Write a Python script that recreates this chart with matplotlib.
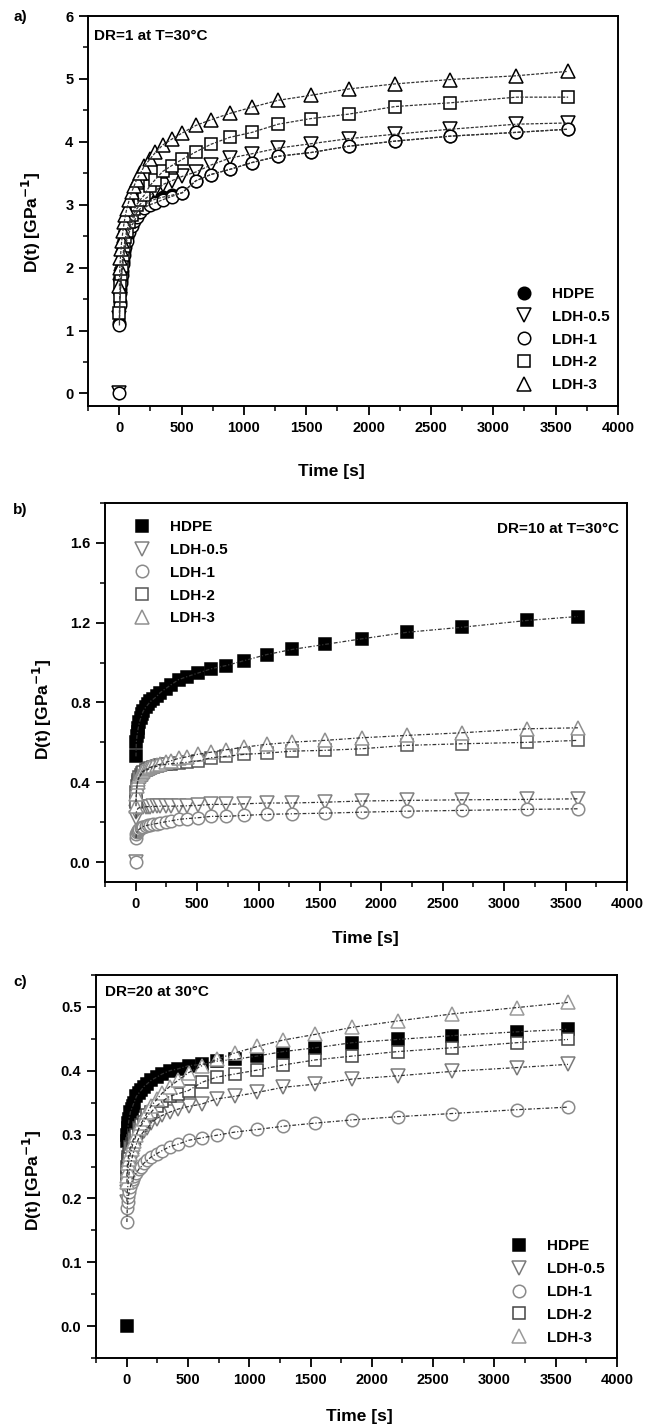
import matplotlib
matplotlib.use("Agg")
import matplotlib.pyplot as plt
from matplotlib.ticker import MultipleLocator

plt.rcParams['font.family'] = ['Liberation Sans', 'DejaVu Sans']
plt.rcParams['font.weight'] = 'bold'
plt.rcParams['mathtext.default'] = 'bf'

# ---------------- data ----------------
series_names = ["HDPE", "LDH-0.5", "LDH-1", "LDH-2", "LDH-3"]

time_s = [2, 5, 10, 15, 20, 30, 40, 50, 60, 80, 100, 120, 140, 170, 200, 245, 290,
          350, 420, 505, 615, 735, 885, 1065, 1275, 1540, 1840, 2210, 2655, 3185, 3600]

# Panel a) DR=1
a_hdpe = [1.12, 1.45, 1.66, 1.81, 1.94, 2.11, 2.26, 2.38, 2.48, 2.62, 2.72, 2.80, 2.87, 2.94, 3.00, 3.05, 3.09,
          3.12, 3.15, 3.19, 3.38, 3.48, 3.56, 3.67, 3.77, 3.83, 3.93, 4.01, 4.09, 4.15, 4.20]
a_ldh05 = [1.20, 1.50, 1.70, 1.85, 1.97, 2.15, 2.30, 2.42, 2.52, 2.66, 2.77, 2.86, 2.93, 3.01, 3.08, 3.15, 3.22,
           3.32, 3.38, 3.45, 3.52, 3.63, 3.74, 3.81, 3.90, 3.97, 4.05, 4.12, 4.20, 4.28, 4.30]
a_ldh1 = [1.08, 1.40, 1.60, 1.75, 1.88, 2.05, 2.20, 2.32, 2.42, 2.56, 2.66, 2.74, 2.81, 2.88, 2.95, 3.00, 3.03,
          3.08, 3.13, 3.19, 3.38, 3.48, 3.56, 3.67, 3.77, 3.83, 3.93, 4.01, 4.09, 4.15, 4.20]
a_ldh2 = [1.28, 1.55, 1.75, 1.90, 2.02, 2.20, 2.35, 2.48, 2.58, 2.72, 2.84, 2.93, 3.00, 3.08, 3.15, 3.30, 3.40,
          3.53, 3.62, 3.72, 3.84, 3.96, 4.07, 4.15, 4.28, 4.37, 4.44, 4.56, 4.62, 4.71, 4.71]
a_ldh3 = [1.70, 2.00, 2.15, 2.30, 2.42, 2.58, 2.72, 2.83, 2.93, 3.07, 3.20, 3.30, 3.40, 3.50, 3.61, 3.72, 3.83,
          3.95, 4.04, 4.14, 4.26, 4.35, 4.45, 4.55, 4.66, 4.74, 4.84, 4.92, 4.99, 5.05, 5.12]
a_zero = ["LDH-0.5", "LDH-1"]

# Panel b) DR=10
b_hdpe = [0.53, 0.60, 0.63, 0.65, 0.67, 0.70, 0.72, 0.74, 0.755, 0.775, 0.79, 0.805, 0.815, 0.83, 0.85, 0.87, 0.89,
          0.915, 0.93, 0.947, 0.969, 0.985, 1.010, 1.040, 1.066, 1.091, 1.119, 1.152, 1.177, 1.211, 1.231]
b_ldh05 = [0.22, 0.25, 0.26, 0.265, 0.27, 0.272, 0.274, 0.275, 0.276, 0.277, 0.278, 0.278, 0.279, 0.279, 0.28, 0.28, 0.28,
           0.281, 0.282, 0.284, 0.289, 0.289, 0.292, 0.296, 0.296, 0.30, 0.306, 0.309, 0.312, 0.314, 0.317]
b_ldh1 = [0.12, 0.14, 0.15, 0.155, 0.16, 0.165, 0.17, 0.175, 0.178, 0.182, 0.185, 0.188, 0.19, 0.193, 0.197, 0.202, 0.207,
          0.214, 0.218, 0.222, 0.229, 0.229, 0.234, 0.239, 0.242, 0.245, 0.25, 0.255, 0.259, 0.264, 0.267]
b_ldh2 = [0.30, 0.35, 0.38, 0.40, 0.41, 0.425, 0.435, 0.445, 0.45, 0.46, 0.465, 0.47, 0.475, 0.48, 0.485, 0.49, 0.493,
          0.496, 0.50, 0.506, 0.523, 0.53, 0.54, 0.546, 0.556, 0.56, 0.568, 0.585, 0.593, 0.60, 0.61]
b_ldh3 = [0.28, 0.34, 0.38, 0.40, 0.415, 0.43, 0.44, 0.45, 0.455, 0.465, 0.47, 0.475, 0.48, 0.487, 0.49, 0.50, 0.508,
          0.52, 0.528, 0.54, 0.551, 0.563, 0.576, 0.59, 0.601, 0.610, 0.623, 0.635, 0.648, 0.668, 0.673]
b_zero = ["LDH-0.5", "LDH-1"]

# Panel c) DR=20
c_hdpe = [0.29, 0.30, 0.31, 0.318, 0.325, 0.335, 0.34, 0.345, 0.35, 0.36, 0.365, 0.37, 0.375, 0.38, 0.385, 0.39, 0.395,
          0.40, 0.403, 0.408, 0.41, 0.415, 0.418, 0.423, 0.430, 0.436, 0.444, 0.449, 0.455, 0.461, 0.465]
c_ldh05 = [0.195, 0.21, 0.22, 0.23, 0.24, 0.25, 0.26, 0.268, 0.275, 0.285, 0.295, 0.30, 0.305, 0.31, 0.318, 0.325, 0.33,
           0.335, 0.34, 0.344, 0.348, 0.356, 0.36, 0.366, 0.374, 0.379, 0.387, 0.392, 0.399, 0.405, 0.41]
c_ldh1 = [0.163, 0.185, 0.195, 0.203, 0.21, 0.218, 0.225, 0.23, 0.235, 0.24, 0.246, 0.25, 0.255, 0.26, 0.265, 0.27, 0.275,
          0.281, 0.285, 0.291, 0.295, 0.299, 0.304, 0.308, 0.313, 0.318, 0.323, 0.328, 0.333, 0.339, 0.343]
c_ldh2 = [0.235, 0.25, 0.26, 0.265, 0.27, 0.28, 0.285, 0.29, 0.295, 0.30, 0.31, 0.315, 0.32, 0.33, 0.335, 0.345, 0.352,
          0.36, 0.364, 0.369, 0.382, 0.39, 0.395, 0.401, 0.409, 0.417, 0.423, 0.430, 0.436, 0.444, 0.449]
c_ldh3 = [0.225, 0.235, 0.245, 0.255, 0.262, 0.27, 0.278, 0.285, 0.29, 0.30, 0.31, 0.318, 0.325, 0.335, 0.345, 0.355, 0.365,
          0.375, 0.385, 0.397, 0.408, 0.418, 0.428, 0.438, 0.448, 0.457, 0.468, 0.478, 0.489, 0.499, 0.507]
c_zero = ["HDPE"]

x_ticks = [0, 500, 1000, 1500, 2000, 2500, 3000, 3500, 4000]

# ---------------- styling ----------------
fig = plt.figure(figsize=(6.48, 14.25), dpi=100)
W, H = 648.0, 1425.0

def axes_px(l, r, t, b):
    return fig.add_axes([l / W, 1 - b / H, (r - l) / W, (b - t) / H])

panels = [
    dict(ax=axes_px(88, 618, 16, 406), data=[a_hdpe, a_ldh05, a_ldh1, a_ldh2, a_ldh3], zero=a_zero,
         ylim=(-0.2, 6), ymaj=1, ymin=0.5, yfmt="%d", hdpe_marker="o",
         colors=["black", "black", "black", "black", "black"], ls=(0, (2.5, 1.2)),
         text="DR=1 at T=30°C", text_xy=(0.012, 0.95), text_ha="left",
         leg_loc="lower left", leg_anchor=(0.806, 0.035),
         ylab_xy=(-0.084, 0.47), xlab_xy=(0.46, -0.15), tag="a)", tag_y=17),
    dict(ax=axes_px(105, 627, 503, 882), data=[b_hdpe, b_ldh05, b_ldh1, b_ldh2, b_ldh3], zero=b_zero,
         ylim=(-0.1, 1.8), ymaj=0.4, ymin=0.2, yfmt="%.1f", hdpe_marker="s",
         colors=["black", "#808080", "#8a8a8a", "#555555", "#909090"], ls=(0, (3, 1.5, 1, 1.5)),
         text="DR=10 at T=30°C", text_xy=(0.985, 0.932), text_ha="right",
         leg_loc="upper left", leg_anchor=(0.054, 0.955),
         ylab_xy=(-0.098, 0.455), xlab_xy=(0.498, -0.13), tag="b)", tag_y=510),
    dict(ax=axes_px(96, 617, 975, 1358), data=[c_hdpe, c_ldh05, c_ldh1, c_ldh2, c_ldh3], zero=c_zero,
         ylim=(-0.05, 0.55), ymaj=0.1, ymin=0.05, yfmt="%.1f", hdpe_marker="s",
         colors=["black", "#7a7a7a", "#8a8a8a", "#444444", "#9a9a9a"], ls=(0, (3, 1.5, 1, 1.5)),
         text="DR=20 at 30°C", text_xy=(0.017, 0.955), text_ha="left",
         leg_loc="lower left", leg_anchor=(0.795, 0.035),
         ylab_xy=(-0.100, 0.465), xlab_xy=(0.505, -0.133), tag="c)", tag_y=982),
]

open_markers = ["v", "o", "s", "^"]
msizes = [9, 10, 9, 9, 10]

for p in panels:
    ax = p["ax"]
    markers = [p["hdpe_marker"]] + open_markers
    handles = []
    for i, (name, vals) in enumerate(zip(series_names, p["data"])):
        col = p["colors"][i]
        face = col if i == 0 else "white"
        ms = msizes[i] if not (i == 0 and p["hdpe_marker"] == "s") else 8.5
        xs = list(time_s)
        ys = list(vals)
        if name in p["zero"]:
            xs = [0] + xs
            ys = [0.0] + ys
        h, = ax.plot(xs, ys, linestyle="none", marker=markers[i], ms=ms,
                     mfc=face, mec=col, mew=1.1, zorder=2 + i * 0.1, label=name)
        ax.plot(time_s, vals, linestyle=p["ls"], color="#333333", lw=0.9, zorder=4)
        handles.append(h)

    ax.set_xlim(-250, 4000)
    ax.set_ylim(*p["ylim"])
    ax.set_xticks(x_ticks)
    ax.xaxis.set_minor_locator(MultipleLocator(250))
    ax.yaxis.set_major_locator(MultipleLocator(p["ymaj"]))
    ax.yaxis.set_minor_locator(MultipleLocator(p["ymin"]))
    ax.yaxis.set_major_formatter(matplotlib.ticker.FormatStrFormatter(p["yfmt"]))
    ax.tick_params(which="major", direction="out", length=6.5, width=1.3, labelsize=10.5, pad=4)
    ax.tick_params(which="minor", direction="out", length=3.8, width=1.1)
    for lab in ax.get_xticklabels() + ax.get_yticklabels():
        lab.set_fontweight("bold")
    for sp in ax.spines.values():
        sp.set_linewidth(1.4)

    ax.set_xlabel("Time [s]", fontsize=12.5, fontweight="bold")
    ax.set_ylabel(r"D(t) [GPa$^{\mathbf{-1}}$]", fontsize=12.5, fontweight="bold")
    ax.xaxis.set_label_coords(*p["xlab_xy"])
    ax.yaxis.set_label_coords(*p["ylab_xy"])

    ax.text(p["text_xy"][0], p["text_xy"][1], p["text"], transform=ax.transAxes,
            ha=p["text_ha"], va="center", fontsize=11, fontweight="bold")

    leg = ax.legend(handles=handles, loc=p["leg_loc"], bbox_to_anchor=p["leg_anchor"],
                    frameon=False, fontsize=11, handlelength=1.2, handletextpad=1.2,
                    labelspacing=0.58, borderpad=0, borderaxespad=0, numpoints=1)
    for t in leg.get_texts():
        t.set_fontweight("bold")

    fig.text(20 / W, 1 - p["tag_y"] / H, p["tag"], ha="center", va="center",
             fontsize=11, fontweight="bold")

fig.savefig("out.png", dpi=100)
